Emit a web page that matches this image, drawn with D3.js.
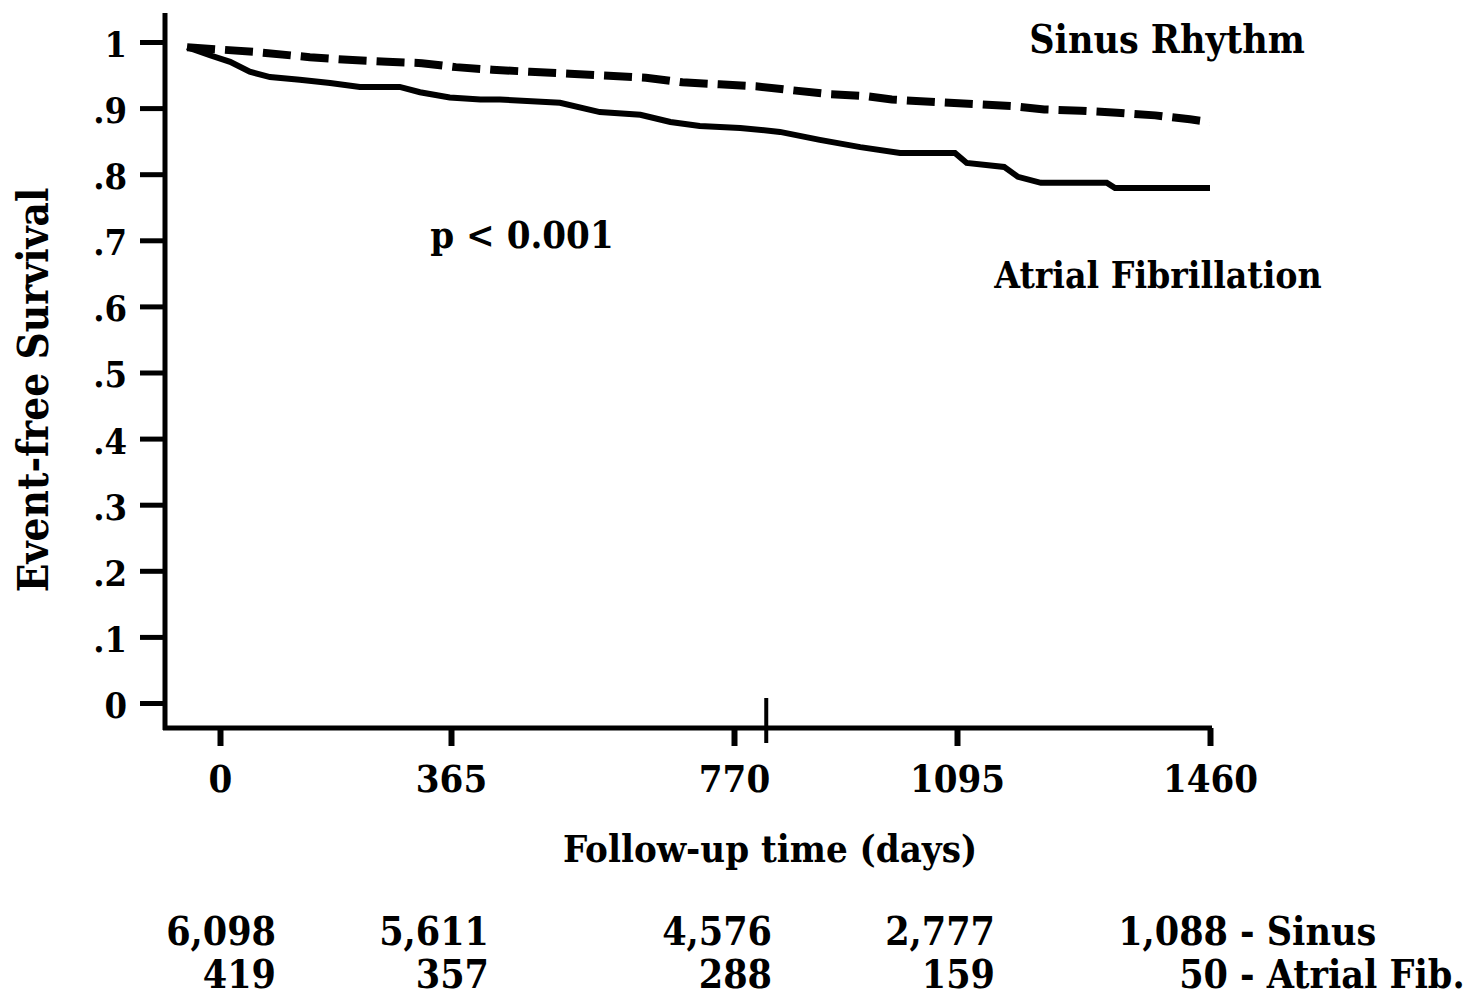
<!DOCTYPE html>
<html>
<head lang="en">
    <meta charset="UTF-8">
    <title>Event-free survival</title>
    <script src="https://d3js.org/d3.v7.min.js"></script>
    <style>
        body { margin: 0; background: #fff; }
        svg text {
            font-family: "DejaVu Serif Condensed", "DejaVu Serif", serif;
            font-weight: bold;
            font-stretch: condensed;
            fill: #000;
        }
        .axis-line { stroke: #000; stroke-width: 5; }
    </style>
</head>
<body>
<svg id="chart" width="1481" height="998"></svg>
<script>
    // x axis ticks (days) and y axis ticks
    const X_TICKS = [0, 365, 770, 1095, 1460];
    const Y_TICKS = [0, 0.1, 0.2, 0.3, 0.4, 0.5, 0.6, 0.7, 0.8, 0.9, 1];
    const Y_TICK_LABELS = ["0", ".1", ".2", ".3", ".4", ".5", ".6", ".7", ".8", ".9", "1"];

    // Sinus rhythm curve (dashed)
    const SINUS_DAYS = [-52, 55, 142, 202, 264, 319, 372, 424, 478, 535, 591, 644, 696, 749, 802,
                        855, 910, 963, 1000, 1066, 1120, 1173, 1221, 1274, 1326, 1381, 1431, 1460];
    const SINUS_SURV = [0.992, 0.985, 0.977, 0.973, 0.970, 0.968, 0.962, 0.958, 0.955, 0.952, 0.949,
                        0.946, 0.939, 0.936, 0.933, 0.927, 0.921, 0.918, 0.913, 0.909, 0.906, 0.903,
                        0.898, 0.896, 0.893, 0.889, 0.883, 0.879];

    // Atrial fibrillation curve (solid)
    const AF_DAYS = [-52, -16, 16, 47, 79, 126, 174, 221, 284, 316, 363, 407, 435, 521, 578, 636, 679,
                     721, 779, 837, 895, 954, 1012, 1092, 1109, 1163, 1183, 1216, 1311, 1323, 1460];
    const AF_SURV = [0.992, 0.980, 0.970, 0.955, 0.947, 0.943, 0.938, 0.932, 0.932, 0.924, 0.916,
                     0.913, 0.913, 0.908, 0.894, 0.890, 0.879, 0.873, 0.870, 0.864, 0.852, 0.841,
                     0.832, 0.832, 0.817, 0.811, 0.796, 0.787, 0.787, 0.779, 0.779];

    // numbers at risk under each x tick
    const RISK_SINUS = ["6,098", "5,611", "4,576", "2,777", "1,088"];
    const RISK_AF = ["419", "357", "288", "159", "50"];
    const RISK_NAMES = ["- Sinus", "- Atrial Fib."];

    const MARK_DAY = 817;   // small vertical stroke on the x axis

    let svg = d3.select('#chart');

    // the printed axis is not evenly spaced, so use a piecewise scale
    let x = d3.scaleLinear().domain(X_TICKS).range([220, 451, 734, 957, 1210]);
    let y = d3.scaleLinear().domain([0, 1]).range([703, 42]);

    const axisX = 165, axisTop = 13, axisBottom = 728;

    // frame lines
    svg.append('line').attr('class', 'axis-line')
        .attr('x1', axisX).attr('x2', axisX).attr('y1', axisTop).attr('y2', axisBottom + 2);
    svg.append('line').attr('class', 'axis-line')
        .attr('x1', axisX - 2).attr('x2', x(1460) + 2).attr('y1', axisBottom).attr('y2', axisBottom);

    // y axis
    let gy = svg.append('g').attr('transform', `translate(${axisX},0)`)
        .call(d3.axisLeft(y).tickValues(Y_TICKS).tickSize(25).tickPadding(13)
            .tickFormat((d, i) => Y_TICK_LABELS[i]));
    gy.select('.domain').remove();
    gy.selectAll('.tick line').attr('stroke-width', 5);
    gy.selectAll('.tick text').attr('font-size', 36).attr('dy', '0.4em');

    // x axis
    let gx = svg.append('g').attr('transform', `translate(0,${axisBottom})`)
        .call(d3.axisBottom(x).tickValues(X_TICKS).tickSize(18).tickPadding(19)
            .tickFormat(d3.format('d')));
    gx.select('.domain').remove();
    gx.selectAll('.tick line').attr('stroke-width', 6);
    gx.selectAll('.tick text').attr('font-size', 38);

    svg.append('line')
        .attr('x1', x(MARK_DAY)).attr('x2', x(MARK_DAY))
        .attr('y1', axisBottom - 30).attr('y2', axisBottom + 15)
        .attr('stroke', '#000').attr('stroke-width', 4);

    // survival curves
    let line = d3.line().x(d => x(d[0])).y(d => y(d[1]));

    svg.append('path')
        .datum(SINUS_DAYS.map((d, i) => [d, SINUS_SURV[i]]))
        .attr('d', line)
        .attr('fill', 'none').attr('stroke', '#000')
        .attr('stroke-width', 8).attr('stroke-dasharray', '28 10');

    svg.append('path')
        .datum(AF_DAYS.map((d, i) => [d, AF_SURV[i]]))
        .attr('d', line)
        .attr('fill', 'none').attr('stroke', '#000')
        .attr('stroke-width', 6);

    // labels
    svg.append('text').attr('x', 1167).attr('y', 53)
        .attr('text-anchor', 'middle').attr('font-size', 39).text('Sinus Rhythm');
    svg.append('text').attr('x', 1158).attr('y', 288)
        .attr('text-anchor', 'middle').attr('font-size', 37).text('Atrial Fibrillation');
    svg.append('text').attr('x', 522).attr('y', 248)
        .attr('text-anchor', 'middle').attr('font-size', 38).text('p < 0.001');

    svg.append('text').attr('x', 770).attr('y', 862)
        .attr('text-anchor', 'middle').attr('font-size', 38).text('Follow-up time (days)');

    svg.append('text')
        .attr('transform', `translate(48,390) rotate(-90)`)
        .attr('text-anchor', 'middle').attr('font-size', 42).text('Event-free Survival');

    // numbers at risk
    let riskRows = [RISK_SINUS, RISK_AF];
    let rowY = [945, 988];
    let offset = i => i === 0 ? 56 : (i === X_TICKS.length - 1 ? 18 : 38);

    riskRows.forEach((row, r) => {
        svg.selectAll(null)
            .data(row)
            .enter()
            .append('text')
            .attr('x', (d, i) => x(X_TICKS[i]) + offset(i))
            .attr('y', rowY[r])
            .attr('text-anchor', 'end')
            .attr('font-size', 39)
            .text(d => d);
        svg.append('text')
            .attr('x', x(1460) + 30)
            .attr('y', rowY[r])
            .attr('font-size', 39)
            .text(RISK_NAMES[r]);
    });
</script>
</body>
</html>
